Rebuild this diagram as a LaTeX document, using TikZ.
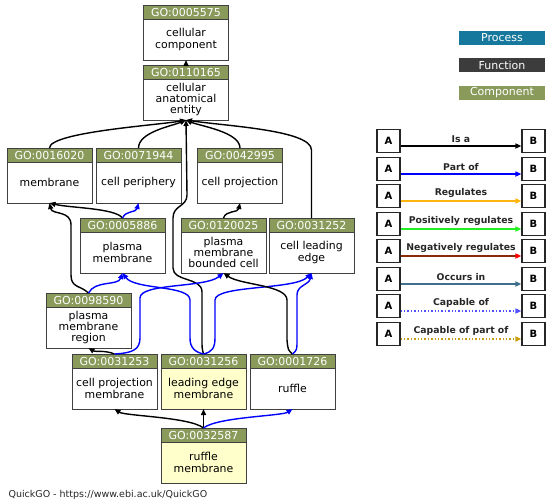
\documentclass[tikz,border=0pt]{standalone}
\usepackage{fontspec}
\setmainfont{DejaVu Sans}
\usepackage{tikz}
\usetikzlibrary{arrows.meta,positioning}
\definecolor{GoGreen}{HTML}{8A9A5B}
\definecolor{GoProcess}{HTML}{16789C}
\definecolor{GoFunction}{HTML}{3C3C3C}
\definecolor{GoYellow}{HTML}{FFFFCC}
\definecolor{BoxLine}{HTML}{404040}
\definecolor{PartBlue}{HTML}{0000FF}
\definecolor{RegOrange}{HTML}{FFB40F}
\definecolor{PosGreen}{HTML}{22EE22}
\definecolor{NegBrown}{HTML}{8B2A0A}
\definecolor{OccSteel}{HTML}{3F6E8C}
\definecolor{CapBlue}{HTML}{5050FF}
\definecolor{CapGold}{HTML}{C89E10}

\begin{document}
\begin{tikzpicture}[
  x=1pt, y=-1pt,
  head/.style={draw=BoxLine, line width=1pt, fill=GoGreen, text=white,
    minimum width=85pt, minimum height=14pt, inner sep=0pt, outer sep=0pt,
    font=\fontsize{11}{12}\selectfont},
  term/.style={draw=BoxLine, line width=1pt, fill=white,
    minimum width=85pt, minimum height=41pt, inner sep=0pt, outer sep=0pt,
    align=center, font=\fontsize{10.9}{11.2}\selectfont},
  isa/.style={-{Triangle[length=6pt,width=5pt]}, line width=1.4pt, draw=black},
  partof/.style={isa, draw=PartBlue},
  reg/.style={isa, draw=RegOrange},
  posreg/.style={isa, draw=PosGreen},
  negreg/.style={-{Triangle[length=6pt,width=5pt,fill=red,color=red]}, line width=1.4pt, draw=NegBrown},
  occurs/.style={isa, draw=OccSteel},
  capable/.style={isa, draw=CapBlue, dotted},
  capablepart/.style={isa, draw=CapGold, dotted},
  catbox/.style={fill=#1, text=white, minimum width=86pt, minimum height=14pt,
    inner sep=0pt, font=\fontsize{11}{12}\selectfont},
  lbox/.style={draw=black!85, line width=1.2pt, minimum size=23pt, inner sep=0pt,
    font=\fontsize{10}{12}\selectfont\bfseries},
  rel/.style={font=\fontsize{9.3}{11}\selectfont\bfseries, text=black!85, inner sep=1pt}
]
\useasboundingbox (0,0) rectangle (550,504);

% GO terms, top to bottom
\node[head] (ccH) at (186,12) {GO:0005575};
\node[term, below=0pt of ccH] (cc) {cellular\\component};
\node[head] (caeH) at (186,72) {GO:0110165};
\node[term, below=0pt of caeH] (cae) {cellular\\anatomical\\entity};

\node[head] (memH) at (49.5,155) {GO:0016020};
\node[term, below=0pt of memH] (mem) {membrane};
\node[head] (cperH) at (138.5,155) {GO:0071944};
\node[term, below=0pt of cperH] (cper) {cell periphery};
\node[head] (cprojH) at (240,155) {GO:0042995};
\node[term, below=0pt of cprojH] (cproj) {cell projection};

\node[head] (pmH) at (122.5,225) {GO:0005886};
\node[term, below=0pt of pmH] (pm) {plasma\\membrane};
\node[head] (pmbcpH) at (223.5,225) {GO:0120025};
\node[term, below=0pt of pmbcpH] (pmbcp) {plasma\\membrane\\bounded cell};
\node[head] (cleH) at (311.5,225) {GO:0031252};
\node[term, below=0pt of cleH] (cle) {cell leading\\edge};

\node[head] (pmrH) at (88.5,300) {GO:0098590};
\node[term, below=0pt of pmrH] (pmr) {plasma\\membrane\\region};

\node[head] (cpmH) at (114.5,361) {GO:0031253};
\node[term, below=0pt of cpmH] (cpm) {cell projection\\membrane};
\node[head] (lemH) at (203.5,361) {GO:0031256};
\node[term, fill=GoYellow, below=0pt of lemH] (lem) {leading edge\\membrane};
\node[head] (rufH) at (292.5,361) {GO:0001726};
\node[term, below=0pt of rufH] (ruf) {ruffle};

\node[head] (rufmH) at (203.5,435) {GO:0032587};
\node[term, fill=GoYellow, below=0pt of rufmH] (rufm) {ruffle\\membrane};

% relations
\draw[isa] (caeH.north) -- (cc.south);
\draw[isa] (memH.north) .. controls (49.5,132) and (160,125) .. (cae.south);
\draw[isa] (cperH.north) .. controls (138.5,132) and (172,126) .. (cae.south);
\draw[isa] (cprojH.north) .. controls (240,132) and (200,126) .. (cae.south);
\draw[isa] (cleH.north) -- (311.5,150) .. controls (311.5,130) and (225,126) .. (cae.south);
\draw[isa] (lemH.north) .. controls (202,348) .. (202,340) -- (202,292)
  .. controls (202,277) and (173,282) .. (173,268) -- (173,218)
  .. controls (173,205) and (187,207) .. (187,195) -- (cae.south);

\draw[isa] (pmH.north) .. controls (115,208) and (70,208) .. (mem.south);
\draw[partof] (pmH.north) .. controls (126,210) and (136,213) .. (cper.south);
\draw[isa] (pmrH.north) .. controls (80,285) and (71,288) .. (71,275) -- (71,225)
  .. controls (71,210) and (52,215) .. (mem.south);
\draw[partof] (pmrH.north) .. controls (95,280) and (118,286) .. (pm.south);
\draw[isa] (pmbcpH.north) .. controls (226,210) and (238,213) .. (cproj.south);

\draw[isa] (cpmH.north) .. controls (105,350) and (95,352) .. (pmr.south);
\draw[partof] (cpmH.north) .. controls (132,353) and (140,350) .. (140,338) -- (140,298)
  .. controls (140,283) and (205,288) .. (pmbcp.south);
\draw[partof] (lemH.north) .. controls (195,352) and (190,348) .. (190,338) -- (190,300)
  .. controls (190,285) and (135,290) .. (pm.south);
\draw[partof] (lemH.north) .. controls (212,352) and (215,348) .. (215,338) -- (215,300)
  .. controls (215,285) and (295,290) .. (cle.south);
\draw[isa] (rufH.north) .. controls (288,350) .. (287,340) -- (287,300)
  .. controls (287,285) and (240,285) .. (pmbcp.south);
\draw[partof] (rufH.north) .. controls (297,350) .. (297,340) -- (297,295)
  .. controls (297,285) and (309,285) .. (cle.south);

\draw[isa] (rufmH.north) .. controls (190,417) and (125,416) .. (cpm.south);
\draw[isa] (rufmH.north) -- (lem.south);
\draw[partof] (rufmH.north) .. controls (217,417) and (282,416) .. (ruf.south);

% aspect legend
\node[catbox=GoProcess] (proc) at (502,38) {Process};
\node[catbox=GoFunction] (func) at (502,65) {Function};
\node[catbox=GoGreen] (comp) at (502,93) {Component};

% relation legend
\foreach \lab/\sty/\ry [count=\i] in {Is a/isa/141, Part of/partof/169, Regulates/reg/196,
    Positively regulates/posreg/224, Negatively regulates/negreg/251, Occurs in/occurs/279,
    Capable of/capable/306, Capable of part of/capablepart/334} {
  \node[lbox] (a\i) at (388.5,\ry) {A};
  \node[lbox] (b\i) at (533.5,\ry) {B};
  \draw[\sty, line width=1.7pt] ([yshift=-5pt]a\i.east) -- node[rel, above=2pt] {\lab} ([yshift=-5pt]b\i.west);
}

\node[anchor=west, font=\fontsize{9.5}{12}\selectfont, text=black!85] (credit) at (5,495)
  {QuickGO - https://www.ebi.ac.uk/QuickGO};
\end{tikzpicture}
\end{document}
